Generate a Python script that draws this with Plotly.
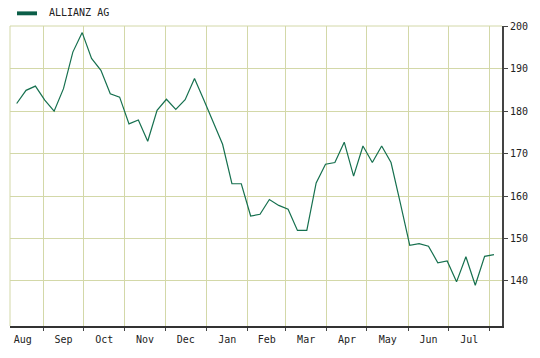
import pandas as pd
import plotly.graph_objects as go

series_name = "ALLIANZ AG"
start_date = "2002-08-12"
prices = [181.8, 184.9, 185.9, 182.6, 180.0, 185.3, 193.9, 198.5, 192.4, 189.6,
          184.1, 183.3, 177.0, 177.9, 172.9, 180.2, 182.8, 180.4, 182.7, 187.7,
          182.6, 177.2, 172.2, 162.9, 162.9, 155.3, 155.7, 159.2, 157.8, 156.9,
          151.9, 151.9, 163.1, 167.5, 167.9, 172.7, 164.7, 171.8, 167.9, 171.8,
          167.9, 158.3, 148.4, 148.8, 148.2, 144.3, 144.7, 139.8, 145.7, 139.0,
          145.8, 146.2]
dates = pd.date_range(start_date, periods=len(prices), freq="7D")
y_ticks = [140, 150, 160, 170, 180, 190, 200]

GRID = "#d3d8a8"
LINE = "#16704f"
AXIS = "#444444"
FONT = "DejaVu Sans Mono"

fig = go.Figure()
fig.add_trace(go.Scatter(x=dates, y=prices, mode="lines",
                         line=dict(color=LINE, width=1.2), name=series_name,
                         showlegend=False, hoverinfo="skip"))

fig.update_layout(
    width=540, height=358,
    margin=dict(l=10, r=38, t=26, b=32),
    paper_bgcolor="white", plot_bgcolor="white",
    font=dict(family=FONT, size=10, color="#222222"),
    xaxis=dict(type="date", range=["2002-08-07", "2003-08-10"],
               tick0="2002-08-01", dtick="M1", tickformat="%b",
               ticklabelmode="period", showgrid=True, gridcolor=GRID, gridwidth=1,
               ticks="outside", ticklen=3, tickcolor=AXIS,
               showline=True, linecolor="#333333", linewidth=2,
               zeroline=False, tickfont=dict(size=10), automargin=False),
    yaxis=dict(range=[129.4, 200.05], side="right", tickvals=y_ticks,
               showgrid=True, gridcolor=GRID, gridwidth=1,
               ticks="outside", ticklen=4, tickcolor=AXIS,
               showline=True, linecolor=AXIS, linewidth=2,
               zeroline=False, tickfont=dict(size=10), automargin=False),
    shapes=[
        dict(type="line", xref="paper", yref="paper", x0=0, x1=0, y0=0, y1=1,
             line=dict(color=GRID, width=1)),
        dict(type="line", xref="paper", yref="paper", x0=0, x1=1, y0=1, y1=1,
             line=dict(color=GRID, width=1)),
        dict(type="rect", xref="paper", yref="paper", x0=0.0142, x1=0.0549,
             y0=1.0357, y1=1.0487, fillcolor="#0b5e48", line=dict(width=0)),
    ],
    annotations=[
        dict(text=series_name, xref="paper", yref="paper", x=0.0752, y=1.0434,
             xanchor="left", yanchor="middle", showarrow=False,
             font=dict(family=FONT, size=10, color="#222222")),
    ],
)

fig.write_html("out.html", config={"displayModeBar": False},
               post_script="document.body.style.margin='0';document.body.style.padding='0';")
